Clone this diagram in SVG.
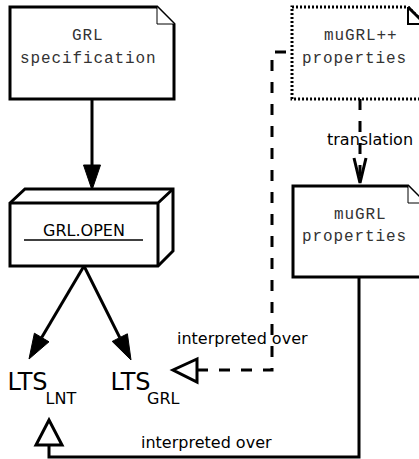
<svg xmlns="http://www.w3.org/2000/svg" width="419" height="459" viewBox="0 0 419 459">
<style>
.box{fill:#fff;stroke:#000;stroke-width:3;stroke-linejoin:miter}
.fold{fill:#fff;stroke:#000;stroke-width:1}
.mono{font-family:"Liberation Mono",monospace;font-size:16px;letter-spacing:0.9px;fill:#333}
.sans{font-family:"DejaVu Sans",sans-serif;fill:#000}
.lbl{font-family:"DejaVu Sans",sans-serif;font-size:16px;fill:#000}
.ln{fill:none;stroke:#000;stroke-width:3}
.dash{fill:none;stroke:#000;stroke-width:3;stroke-dasharray:11 11}
.head{fill:#000;stroke:#000;stroke-width:1}
.open{fill:#fff;stroke:#000;stroke-width:3;stroke-linejoin:miter}
</style>
<rect width="419" height="459" fill="#fff"/>
<g id="grl-spec">
<path class="box" d="M10,7 H157 L174,24 V99 H10 Z"/>
<path class="fold" d="M157,7 V24 H174"/>
<text class="mono" x="72" y="40">GRL</text>
<text class="mono" x="20" y="63">specification</text>
</g>
<g id="mugrlpp">
<path class="box" style="stroke-dasharray:2 2" d="M292,7 H408 L425,24 V99 H292 Z"/>
<path class="fold" style="stroke-width:2" d="M408,7 V24 H425"/>
<path d="M408,7 L425,24" stroke="#000" stroke-width="3"/>
<text class="mono" x="324" y="40">muGRL++</text>
<text class="mono" x="302" y="63">properties</text>
</g>
<g id="grl-open">
<path class="box" d="M10,203 L25,189 H173 V251 L158,266 H10 Z"/>
<path class="ln" d="M10,203 H158 V266 M158,203 L173,189"/>
<text class="sans" x="84" y="236" font-size="16" text-anchor="middle">GRL.OPEN</text>
<line x1="24" y1="240" x2="143" y2="240" stroke="#000" stroke-width="1.5"/>
</g>
<g id="mugrl">
<path class="box" d="M293,186 H408 L425,203 V277 H293 Z"/>
<path class="fold" d="M408,186 V203 H425"/>
<text class="mono" x="334" y="219">muGRL</text>
<text class="mono" x="302" y="241">properties</text>
</g>
<g id="lts-lnt">
<text class="sans" x="7.6" y="390" font-size="24">LTS</text>
<text class="sans" x="45.5" y="404" font-size="16">LNT</text>
</g>
<g id="lts-grl">
<text class="sans" x="110.6" y="390" font-size="24">LTS</text>
<text class="sans" x="147" y="404" font-size="16">GRL</text>
</g>
<g id="connectors">
<line class="ln" x1="92" y1="99" x2="92" y2="167"/>
<polygon class="head" points="83.5,165 100.5,165 92,190"/>
<line class="ln" x1="84" y1="266" x2="41.7" y2="337.5"/>
<polygon class="head" points="49,341.8 34.4,333.2 29,359"/>
<line class="ln" x1="84" y1="266" x2="119.8" y2="337.6"/>
<polygon class="head" points="127.4,333.8 112.2,341.4 131,360"/>
<line class="dash" x1="360" y1="99" x2="360" y2="180"/>
<path class="ln" d="M354,158 L360,183 L366,158"/>
<text class="lbl" x="370" y="145" text-anchor="middle">translation</text>
<path class="dash" d="M197,370 H272 V52 H292"/>
<polygon class="open" points="197,359 197,382 173,370"/>
<text class="lbl" x="177" y="344">interpreted over</text>
<path class="ln" d="M359,277 V457 H49 V445"/>
<polygon class="open" points="36,445 62,445 49,420"/>
<text class="lbl" x="141" y="448">interpreted over</text>
</g>
</svg>
